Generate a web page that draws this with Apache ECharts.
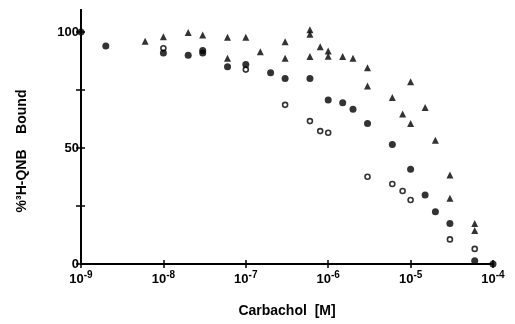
<!DOCTYPE html>
<html>
<head>
<meta charset="utf-8">
<script src="https://cdn.jsdelivr.net/npm/echarts@6/dist/echarts.min.js"></script>
<style>
  html, body { margin: 0; padding: 0; background: #fff; }
  #chart { width: 515px; height: 324px; }
</style>
</head>
<body>
<div id="chart"></div>
<script>
// carbachol concentration (M) and % 3H-QNB bound
const filledX = [1e-9, 2e-9, 1e-8, 2e-8, 3e-8, 3e-8, 6e-8, 1e-7, 2e-7, 3e-7, 6e-7, 1e-6, 1.5e-6, 2e-6, 3e-6, 6e-6, 1e-5, 1.5e-5, 2e-5, 3e-5, 6e-5, 1e-4];
const filledY = [100, 94, 91, 90, 92, 91, 85, 86, 82.5, 80, 80, 70.7, 69.5, 66.7, 60.6, 51.5, 40.8, 29.7, 22.5, 17.5, 1.4, 0];

const openX = [1e-8, 1e-7, 3e-7, 6e-7, 8e-7, 1e-6, 3e-6, 6e-6, 8e-6, 1e-5, 3e-5, 6e-5];
const openY = [93, 83.8, 68.6, 61.6, 57.3, 56.6, 37.6, 34.5, 31.5, 27.6, 10.6, 6.5];

const triX = [6e-9, 1e-8, 2e-8, 3e-8, 6e-8, 6e-8, 1e-7, 1.5e-7, 3e-7, 3e-7, 6e-7, 6e-7, 6e-7, 8e-7, 1e-6, 1e-6, 1.5e-6, 2e-6, 3e-6, 3e-6, 6e-6, 8e-6, 1e-5, 1e-5, 1.5e-5, 2e-5, 3e-5, 3e-5, 6e-5, 6e-5];
const triY = [96, 98, 99.8, 98.7, 97.7, 88.7, 97.7, 91.5, 95.8, 88.7, 101, 99, 89.4, 93.7, 91.8, 89.6, 89.4, 88.7, 84.6, 76.7, 71.8, 64.7, 78.6, 60.6, 67.5, 53.4, 38.4, 28.3, 17.5, 14.4];

const yTicks = [0, 25, 50, 75, 100];
const yLabels = [0, 50, 100];

const pairs = (xs, ys) => xs.map((x, i) => [x, ys[i]]);

const chart = echarts.init(document.getElementById('chart'));
const font = 'Liberation Sans, Arial, sans-serif';

const xAxisBase = {
  type: 'log',
  logBase: 10,
  min: 1e-9,
  max: 1e-4,
  position: 'bottom',
  splitLine: {show: false},
  axisLine: {lineStyle: {color: '#000', width: 2}},
};
const yAxisBase = {
  type: 'value',
  min: 0,
  max: 109.5,
  position: 'left',
  splitLine: {show: false},
  axisLine: {lineStyle: {color: '#000', width: 2}},
};

const opts = {
  backgroundColor: '#fff',
  animation: false,
  grid: {left: 81, right: 22, top: 10, bottom: 60},
  xAxis: [
    Object.assign({}, xAxisBase, {
      axisTick: {length: 4, lineStyle: {color: '#000', width: 1.5}},
      axisLabel: {
        margin: 4,
        color: '#000',
        formatter: v => '{b|10}{s|' + Math.round(Math.log10(v)) + '}',
        rich: {
          b: {fontFamily: font, fontWeight: 'bold', fontSize: 13, color: '#000', padding: [5, 0, 0, 0]},
          s: {fontFamily: font, fontWeight: 'bold', fontSize: 10, color: '#000', padding: [0, 0, 3, 0]}
        }
      },
      name: 'Carbachol  [M]',
      nameLocation: 'middle',
      nameGap: 40,
      nameTextStyle: {fontFamily: font, fontWeight: 'bold', fontSize: 14, color: '#000'}
    }),
    Object.assign({}, xAxisBase, {
      axisTick: {inside: true, length: 4, lineStyle: {color: '#000', width: 1.5}},
      axisLabel: {show: false}
    })
  ],
  yAxis: [
    Object.assign({}, yAxisBase, {
      axisTick: {length: 5, customValues: yTicks, lineStyle: {color: '#000', width: 1.5}},
      axisLabel: {
        customValues: yLabels,
        margin: 2,
        fontFamily: font, fontWeight: 'bold', fontSize: 13, color: '#000'
      },
      name: '%\u00B3H-QNB    Bound',
      nameLocation: 'middle',
      nameRotate: 90,
      nameGap: 52,
      nameTextStyle: {fontFamily: font, fontWeight: 'bold', fontSize: 14, color: '#000', padding: [0, 0, 0, -28]}
    }),
    Object.assign({}, yAxisBase, {
      axisTick: {inside: true, length: 4, customValues: yTicks, lineStyle: {color: '#000', width: 1.5}},
      axisLabel: {show: false}
    })
  ],
  series: [
    {
      type: 'scatter',
      data: pairs(triX, triY),
      symbol: 'triangle',
      symbolSize: 7,
      itemStyle: {color: '#000'}
    },
    {
      type: 'scatter',
      data: pairs(openX, openY),
      symbol: 'circle',
      symbolSize: 5,
      itemStyle: {color: '#fff', borderColor: '#000', borderWidth: 1.6}
    },
    {
      type: 'scatter',
      data: pairs(filledX, filledY),
      symbol: 'circle',
      symbolSize: 7,
      itemStyle: {color: '#000'}
    }
  ]
};

chart.setOption(opts);
</script>
</body>
</html>
